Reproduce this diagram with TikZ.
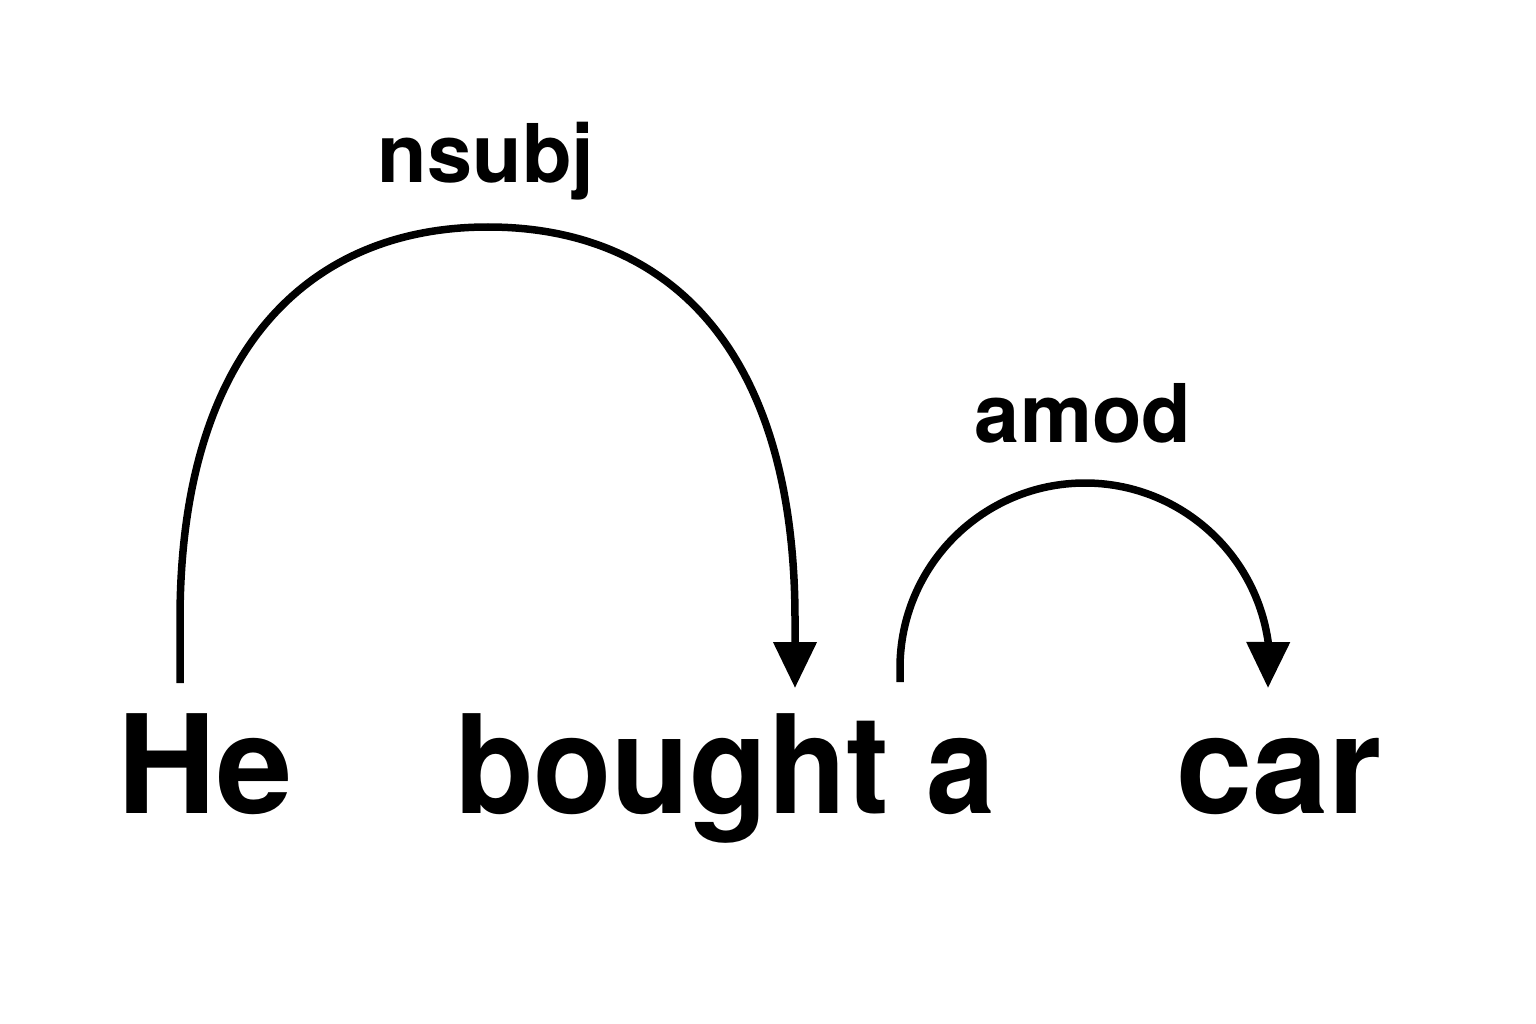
\documentclass[tikz,border=0pt]{standalone}
\usepackage{fontspec}
\setmainfont{TeX Gyre Heros}
\usetikzlibrary{arrows.meta}
\begin{document}
\begin{tikzpicture}[x=1pt,y=-1pt,
  word/.style={inner sep=0pt,anchor=base,font=\fontsize{137}{150}\selectfont\bfseries},
  rel/.style={inner sep=0pt,anchor=base,font=\fontsize{81}{90}\selectfont\bfseries},
  arc/.style={line width=7.5pt,-{Triangle[length=46pt,width=42pt]}}]
\useasboundingbox (0,0) rectangle (1536,1024);
\fill[white] (0,0) rectangle (1536,1024);
\node[word] (he) at (205,813) {He};
\node[word] (bought) at (672,813) {\scalebox{0.935}[1]{bought}};
\node[word] (a) at (961,813) {\scalebox{0.9}[1]{a}};
\node[word] (car) at (1279,813) {car};
\node[rel] (nsubj) at (486,183) {nsubj};
\node[rel] (amod) at (1083,442) {amod};
\coordinate (s1) at (180,683);
\coordinate (t1) at (795,688);
\coordinate (s2) at (900,682);
\coordinate (t2) at (1268,688);
\draw[arc] (s1) -- (180,620) .. controls (180,345) and (313,227) .. (488,227)
  .. controls (665,227) and (795,345) .. (795,620) -- (t1);
\draw[arc] (s2) -- (900,668) arc[start angle=180, end angle=352, radius=185] -- (t2);
\end{tikzpicture}
\end{document}
